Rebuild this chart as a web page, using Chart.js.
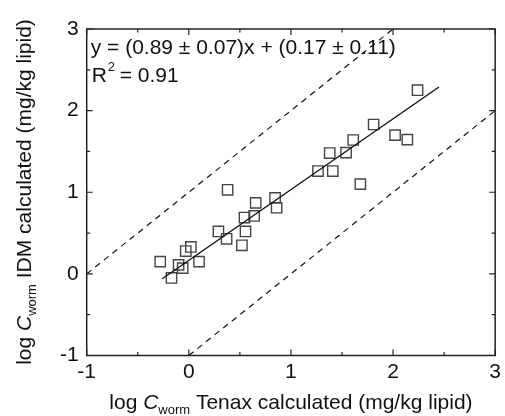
<!DOCTYPE html>
<html><head><meta charset="utf-8">
<script src="https://cdn.jsdelivr.net/npm/chart.js@4/dist/chart.umd.min.js"></script>
<style>html,body{margin:0;padding:0;background:#fff}</style>
</head><body>
<canvas id="c" width="505" height="416"></canvas>
<script>
const tenaxX = [-0.28,-0.17,-0.10,-0.06,-0.03,0.02,0.10,0.29,0.37,0.38,0.52,0.555,0.545,0.64,0.655,0.845,0.86,1.265,1.41,1.38,1.54,1.61,1.68,1.81,2.02,2.14,2.24];
const idmY   = [0.15,-0.05,0.11,0.07,0.28,0.33,0.15,0.52,0.43,1.03,0.35,0.52,0.69,0.71,0.87,0.93,0.81,1.26,1.26,1.48,1.485,1.64,1.10,1.83,1.70,1.645,2.25];
const fitLineX = [-0.26, 2.45];
const fitLineY = [-0.06, 2.29];
const upperX = [-1, 2];
const upperY = [0, 3];
const lowerX = [0, 3];
const lowerY = [-1, 2];
const tickValues = [-1, 0, 1, 2, 3];
const eqLine1 = "y = (0.89 \u00B1 0.07)x + (0.17 \u00B1 0.11)";
const FONT = '"Liberation Sans", Arial, sans-serif';

function pts(xs, ys){ return xs.map((x,i)=>({x:x, y:ys[i]})); }

function drawRich(ctx, parts, x, y){
  let w = 0;
  parts.forEach(p=>{ ctx.font = p.font; w += ctx.measureText(p.t).width; });
  let cx = x - w/2;
  parts.forEach(p=>{ ctx.font = p.font; ctx.fillText(p.t, cx, y + (p.dy||0)); cx += ctx.measureText(p.t).width; });
}

const decor = {
  id: 'decor',
  afterDraw(chart){
    const ctx = chart.ctx, a = chart.chartArea, xs = chart.scales.x, ys = chart.scales.y;
    ctx.save();
    ctx.strokeStyle = '#222'; ctx.lineWidth = 1.5;
    ctx.strokeRect(a.left, a.top, a.right - a.left, a.bottom - a.top);
    ctx.lineWidth = 1.2;
    for (let v = -1; v <= 3.001; v += 0.5){
      const major = Math.abs(v - Math.round(v)) < 1e-6;
      const L = major ? 6 : 3.5;
      const px = xs.getPixelForValue(v), py = ys.getPixelForValue(v);
      ctx.beginPath();
      ctx.moveTo(px, a.bottom); ctx.lineTo(px, a.bottom - L);
      ctx.moveTo(px, a.top); ctx.lineTo(px, a.top + L);
      ctx.moveTo(a.left, py); ctx.lineTo(a.left + L, py);
      ctx.moveTo(a.right, py); ctx.lineTo(a.right - L, py);
      ctx.stroke();
    }
    ctx.fillStyle = '#111';
    ctx.textBaseline = 'alphabetic';
    ctx.textAlign = 'left';
    // equation
    ctx.font = '21px ' + FONT;
    ctx.fillText(eqLine1, a.left + 4, a.top + 25);
    ctx.fillText('R', a.left + 5, a.top + 53);
    const rw = ctx.measureText('R').width;
    ctx.font = '13px ' + FONT;
    ctx.fillText('2', a.left + 5 + rw + 1, a.top + 42);
    ctx.font = '21px ' + FONT;
    ctx.fillText(' = 0.91', a.left + 5 + rw + 7, a.top + 53);
    // x title
    const big = '21px ' + FONT, ital = 'italic 21px ' + FONT, sub = '13px ' + FONT;
    drawRich(ctx, [{t:'log ', font:big},{t:'C', font:ital},{t:'worm', font:sub, dy:5},{t:' Tenax calculated (mg/kg lipid)', font:big}], (a.left + a.right)/2, 409);
    // y title
    ctx.save();
    ctx.translate(31, 192);
    ctx.rotate(-Math.PI/2);
    drawRich(ctx, [{t:'log ', font:big},{t:'C', font:ital},{t:'worm', font:sub, dy:5},{t:' IDM calculated (mg/kg lipid)', font:big}], 0, 0);
    ctx.restore();
    ctx.restore();
  }
};

new Chart(document.getElementById('c'), {
  type: 'scatter',
  data: {
    datasets: [
      { data: pts(upperX, upperY), showLine: true, borderColor: '#111', borderWidth: 1.2, borderDash: [6,5], pointRadius: 0, fill: false },
      { data: pts(lowerX, lowerY), showLine: true, borderColor: '#111', borderWidth: 1.2, borderDash: [6,5], pointRadius: 0, fill: false },
      { data: pts(fitLineX, fitLineY), showLine: true, borderColor: '#111', borderWidth: 1.4, pointRadius: 0, fill: false },
      { data: pts(tenaxX, idmY), pointStyle: 'rect', pointRadius: 7.3, pointBorderColor: '#444', pointBackgroundColor: 'rgba(0,0,0,0)', pointBorderWidth: 1.4 }
    ]
  },
  options: {
    responsive: false, animation: false,
    layout: { padding: { top: 29, right: 5, left: 0, bottom: 0 } },
    plugins: { legend: { display: false }, tooltip: { enabled: false } },
    scales: {
      x: {
        type: 'linear', min: -1, max: 3,
        afterBuildTicks: s => { s.ticks = tickValues.map(v => ({value: v})); },
        afterFit: s => { s.height = 60.5; },
        grid: { display: false, drawTicks: false },
        border: { display: false },
        ticks: { color: '#111', font: { size: 21, family: FONT }, padding: 4, maxRotation: 0 }
      },
      y: {
        type: 'linear', min: -1, max: 3,
        afterBuildTicks: s => { s.ticks = tickValues.map(v => ({value: v})); },
        afterFit: s => { s.width = 86.7; },
        grid: { display: false, drawTicks: false },
        border: { display: false },
        ticks: { color: '#111', font: { size: 21, family: FONT }, padding: 8 }
      }
    }
  },
  plugins: [decor]
});
</script>
</body></html>
